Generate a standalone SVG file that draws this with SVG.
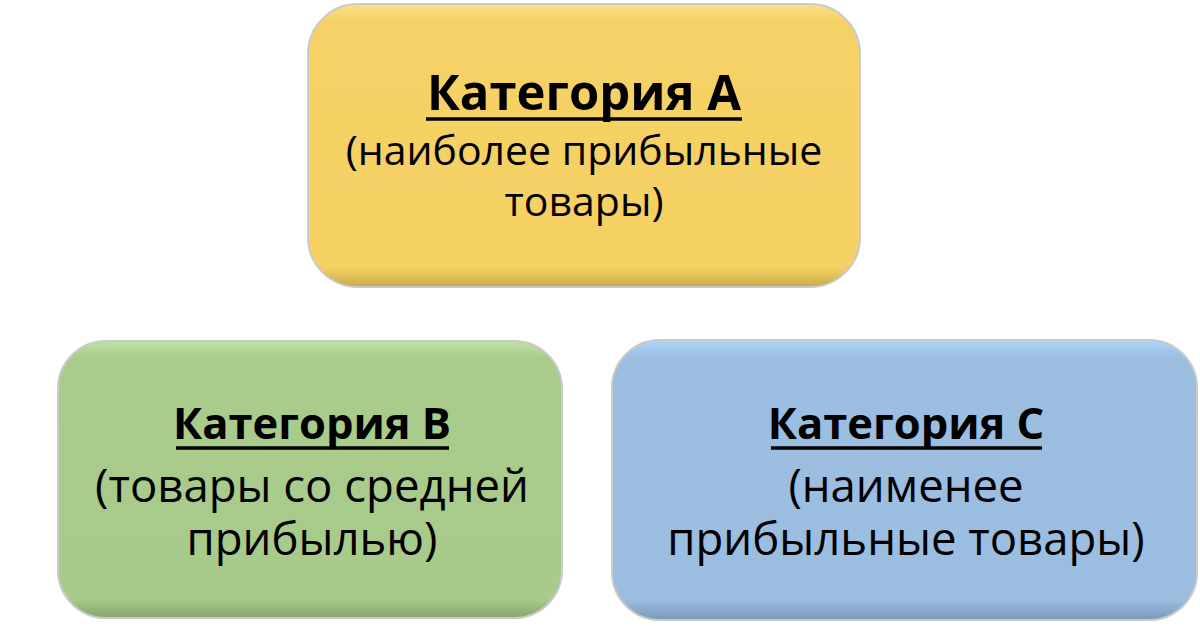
<svg xmlns="http://www.w3.org/2000/svg" width="1200" height="626" viewBox="0 0 1200 626">
<defs>
<linearGradient id="gA" x1="0" y1="0" x2="0" y2="1">
<stop offset="0" stop-color="#fbe088"/><stop offset="0.06" stop-color="#f6d266"/><stop offset="0.93" stop-color="#f5d063"/><stop offset="1" stop-color="#c9aa4c"/>
</linearGradient>
<linearGradient id="gB" x1="0" y1="0" x2="0" y2="1">
<stop offset="0" stop-color="#bde3a2"/><stop offset="0.06" stop-color="#a9cc8d"/><stop offset="0.93" stop-color="#a8cb8b"/><stop offset="1" stop-color="#86a56d"/>
</linearGradient>
<linearGradient id="gC" x1="0" y1="0" x2="0" y2="1">
<stop offset="0" stop-color="#add6fb"/><stop offset="0.06" stop-color="#9cbee1"/><stop offset="0.93" stop-color="#9bbde0"/><stop offset="1" stop-color="#7b97b6"/>
</linearGradient>
</defs>
<style>
.box{stroke:#c9c9c9;stroke-width:2}
.t{font-family:"Open Sans","Liberation Sans",sans-serif;fill:#000;text-anchor:middle}
.hA{font-weight:bold;font-size:49px}
.h{font-weight:bold;font-size:43.5px}
.sA{font-size:41px}
.s{font-size:45.5px}
.u{stroke:#000;stroke-width:3.5}
</style>
<g id="nodeA">
<rect class="box" x="308" y="4" width="552" height="283" rx="50" fill="url(#gA)"/>
<text class="t hA" x="584" y="110">Категория А</text>
<line class="u" x1="426" y1="119" x2="742" y2="119"/>
<text class="t sA" x="584" y="165">(наиболее прибыльные</text>
<text class="t sA" x="584" y="216">товары)</text>
</g>
<g id="nodeB">
<rect class="box" x="58" y="341" width="504" height="277" rx="48" fill="url(#gB)"/>
<text class="t h" x="312" y="439">Категория В</text>
<line class="u" x1="176" y1="448" x2="449" y2="448"/>
<text class="t s" x="312" y="502">(товары со средней</text>
<text class="t s" x="312" y="555">прибылью)</text>
</g>
<g id="nodeC">
<rect class="box" x="612" y="340" width="585" height="280" rx="48" fill="url(#gC)"/>
<text class="t h" x="906" y="439">Категория С</text>
<line class="u" x1="771" y1="448" x2="1042" y2="448"/>
<text class="t s" x="906" y="502">(наименее</text>
<text class="t s" x="906" y="555">прибыльные товары)</text>
</g>
<g id="connectors"/>
</svg>
